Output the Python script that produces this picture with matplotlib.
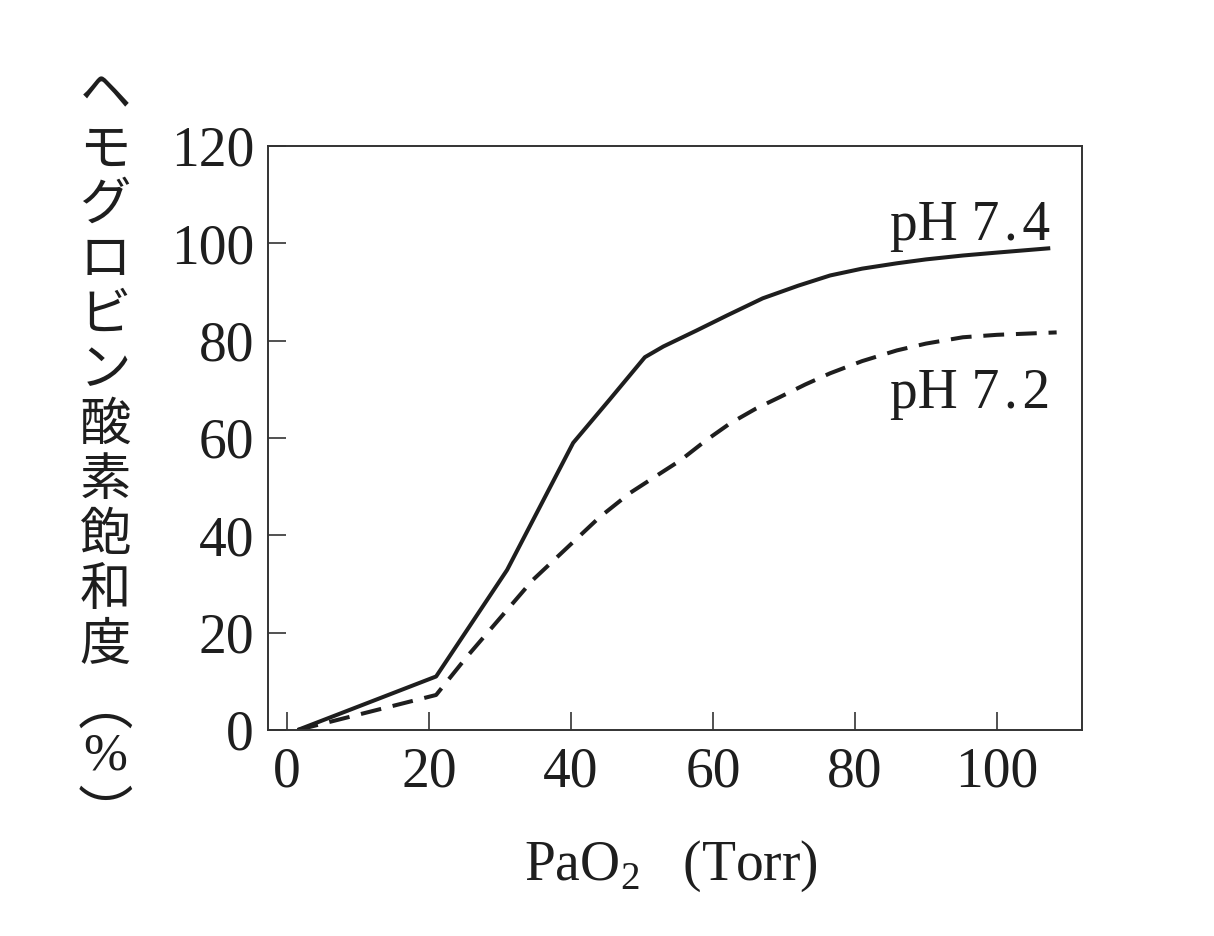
import matplotlib
matplotlib.use('Agg')
from matplotlib import pyplot as plt

# PaO2 (Torr) vs hemoglobin O2 saturation (%)
ph74_x = [1.5, 21, 31, 40.3, 45.5, 50.4, 53, 57.7, 62, 67, 72, 76.5, 81, 85.9, 90, 95.2, 100, 107.5]
ph74_y = [0, 11, 32.9, 59, 68, 76.6, 78.8, 82.1, 85.2, 88.7, 91.3, 93.4, 94.8, 95.9, 96.7, 97.5, 98.1, 99]

ph72_x = [1.5, 21, 25.3, 34.6, 44, 48.3, 52, 55.4, 59, 62.4, 66, 69.4, 73, 76.5, 81, 85.9, 90, 95.2, 100, 108.4]
ph72_y = [0, 7.2, 15, 30.8, 43.7, 48.7, 52.2, 55.4, 59.5, 63, 66, 68.4, 71, 73.3, 75.8, 78, 79.4, 80.7, 81.2, 81.7]

x_ticks = [0, 20, 40, 60, 80, 100]
y_ticks = [0, 20, 40, 60, 80, 100, 120]

ylabel_chars = ['ヘ', 'モ', 'グ', 'ロ', 'ビ', 'ン', '酸', '素', '飽', '和', '度']

plt.rcParams['font.family'] = ['Liberation Serif', 'DejaVu Serif']
plt.rcParams['mathtext.fontset'] = 'custom'
plt.rcParams['mathtext.rm'] = 'Liberation Serif'
plt.rcParams['lines.scale_dashes'] = False

W, H = 1214, 936
fig = plt.figure(figsize=(W / 100, H / 100), dpi=100)
ax = fig.add_axes([268 / W, 1 - 730 / H, (1082 - 268) / W, (730 - 146) / H])

ink = '#1e1e1e'
ax.plot(ph74_x, ph74_y, color=ink, lw=2.9, solid_joinstyle='round', solid_capstyle='butt')
ax.plot(ph72_x, ph72_y, color=ink, lw=2.9, dashes=(15, 8.5), dash_capstyle='butt')

ax.set_xlim(-2.68, 111.97)
ax.set_ylim(0, 120)
ax.set_xticks(x_ticks)
ax.set_yticks(y_ticks)
ax.tick_params(direction='in', length=13, width=1.2, color='#333333',
               labelsize=40, labelcolor=ink)
ax.tick_params(axis='x', pad=12)
ax.tick_params(axis='y', pad=10)
for s in ax.spines.values():
    s.set_linewidth(1.4)
    s.set_color('#333333')

ax.text(107.5, 100.6, 'pH 7\u200a.\u200a4', ha='right', va='baseline', fontsize=40, color=ink)
ax.text(107.5, 66.1, 'pH 7\u200a.\u200a2', ha='right', va='baseline', fontsize=40, color=ink)

fig.text(671 / W, 1 - 866 / H, 'PaO$_2$   (Torr)', ha='center', va='center',
         fontsize=40, color=ink)

# vertical y label, one character per row
cjk = ['Noto Sans CJK JP', 'DejaVu Sans']
cx = 105 / W
for i, ch in enumerate(ylabel_chars):
    fig.text(cx, 1 - (95 + 55 * i) / H, ch, ha='center', va='center',
             fontsize=37, color=ink, family=cjk)
fig.text(cx, 1 - 708 / H, '\ufe35', ha='center', va='center', fontsize=40, color=ink, family=cjk)
fig.text(cx, 1 - 757 / H, '%', ha='center', va='center', fontsize=38, color=ink)
fig.text(cx, 1 - 816 / H, '\ufe36', ha='center', va='center', fontsize=40, color=ink, family=cjk)

fig.savefig('out.png', dpi=100)
